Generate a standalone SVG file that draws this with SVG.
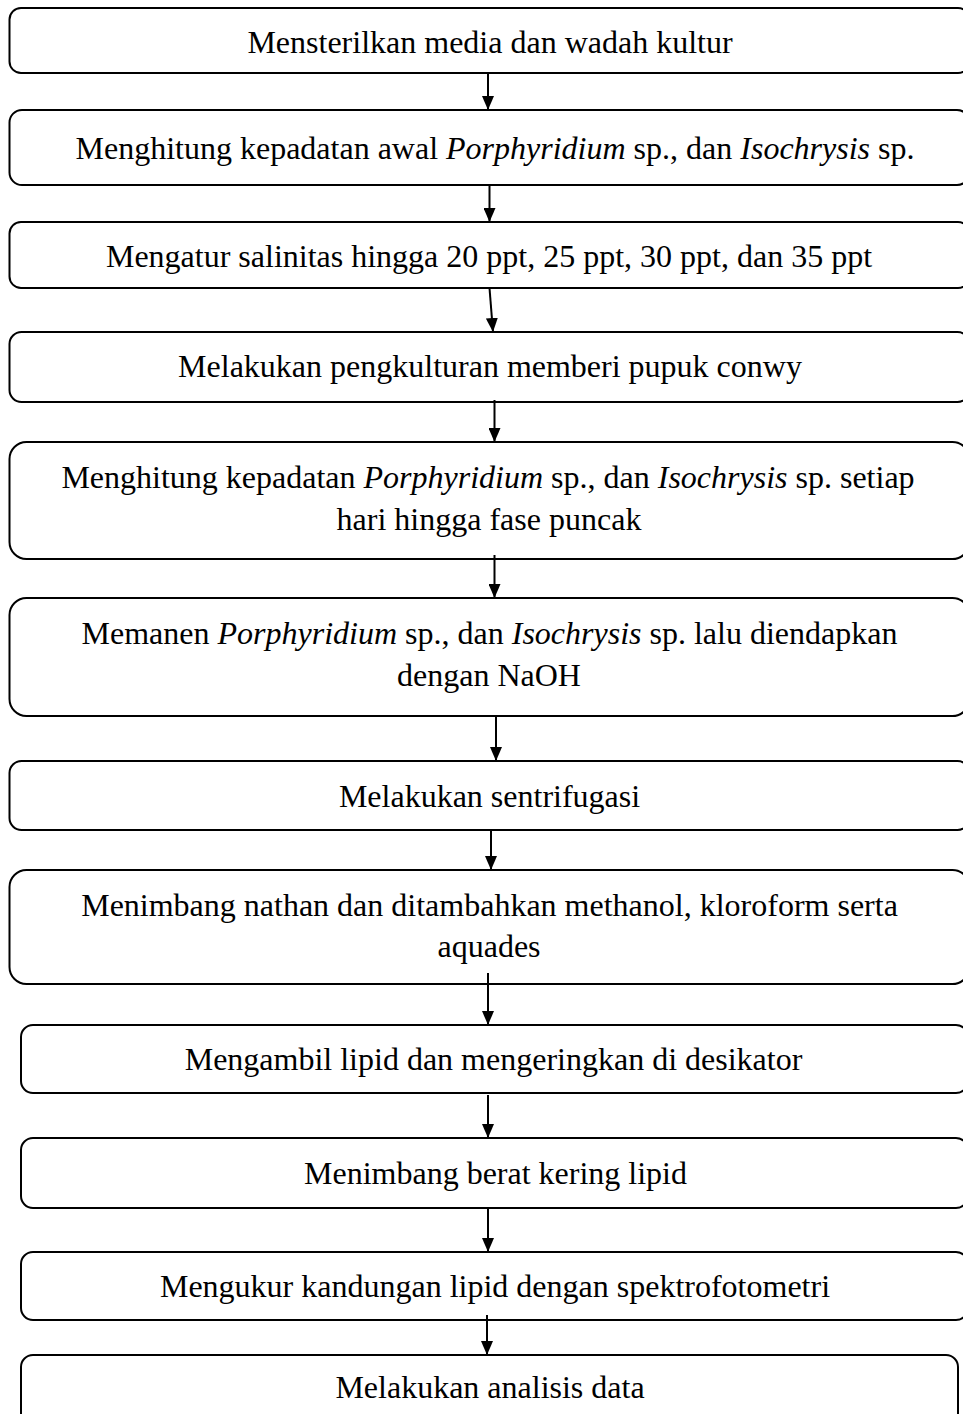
<svg xmlns="http://www.w3.org/2000/svg" width="963" height="1414" viewBox="0 0 963 1414">
<style>
.box{fill:#fff;stroke:#000;stroke-width:2}
.t{font-family:"Liberation Serif","Times New Roman",serif;font-size:32px;text-anchor:middle;fill:#000}
.i{font-style:italic}
.c{stroke:#000;stroke-width:2;fill:none;marker-end:url(#ah)}
</style>
<defs>
<marker id="ah" viewBox="0 0 14 12" refX="14" refY="6" markerWidth="14" markerHeight="12" markerUnits="userSpaceOnUse" orient="auto">
<path d="M0,0 L14,6 L0,12 z" fill="#000"/>
</marker>
</defs>
<rect width="963" height="1414" fill="#fff"/>
<g id="n1"><rect class="box" x="9.5" y="8" width="960" height="65" rx="11.5"/><text class="t" x="490" y="53">Mensterilkan media dan wadah kultur</text></g>
<g id="n2"><rect class="box" x="9.5" y="110" width="960" height="75" rx="12.5"/><text class="t" x="495" y="159">Menghitung kepadatan awal <tspan class="i">Porphyridium</tspan> sp., dan <tspan class="i">Isochrysis</tspan> sp.</text></g>
<g id="n3"><rect class="box" x="9.5" y="222" width="960" height="66" rx="11.5"/><text class="t" x="489" y="267">Mengatur salinitas hingga 20 ppt, 25 ppt, 30 ppt, dan 35 ppt</text></g>
<g id="n4"><rect class="box" x="9.5" y="332" width="960" height="70" rx="12"/><text class="t" x="490" y="377">Melakukan pengkulturan memberi pupuk conwy</text></g>
<g id="n5"><rect class="box" x="9.5" y="442" width="960" height="117" rx="17"/><text class="t" x="488" y="487.5">Menghitung kepadatan <tspan class="i">Porphyridium</tspan> sp., dan <tspan class="i">Isochrysis</tspan> sp. setiap</text><text class="t" x="489" y="529.5">hari hingga fase puncak</text></g>
<g id="n6"><rect class="box" x="9.5" y="598" width="960" height="118" rx="17"/><text class="t" x="489.5" y="644">Memanen <tspan class="i">Porphyridium</tspan> sp., dan <tspan class="i">Isochrysis</tspan> sp. lalu diendapkan</text><text class="t" x="489" y="686">dengan NaOH</text></g>
<g id="n7"><rect class="box" x="9.5" y="761" width="960" height="69" rx="12"/><text class="t" x="489.5" y="806.5">Melakukan sentrifugasi</text></g>
<g id="n8"><rect class="box" x="9.5" y="870" width="960" height="114" rx="17"/><text class="t" x="489.5" y="916">Menimbang nathan dan ditambahkan methanol, kloroform serta</text><text class="t" x="489" y="957">aquades</text></g>
<g id="n9"><rect class="box" x="21" y="1025" width="947" height="68" rx="12"/><text class="t" x="493.5" y="1070">Mengambil lipid dan mengeringkan di desikator</text></g>
<g id="n10"><rect class="box" x="21" y="1138" width="947" height="70" rx="12"/><text class="t" x="495.5" y="1184">Menimbang berat kering lipid</text></g>
<g id="n11"><rect class="box" x="21" y="1252" width="947" height="68" rx="12"/><text class="t" x="495" y="1297">Mengukur kandungan lipid dengan spektrofotometri</text></g>
<g id="n12"><rect class="box" x="21" y="1355" width="937" height="72" rx="12"/><text class="t" x="490" y="1398">Melakukan analisis data</text></g>
<g id="connectors">
<line class="c" x1="488" y1="73" x2="488" y2="110"/>
<line class="c" x1="489.5" y1="185" x2="489.5" y2="222"/>
<line class="c" x1="489.5" y1="288" x2="493" y2="332"/>
<line class="c" x1="494.5" y1="400" x2="494.5" y2="442"/>
<line class="c" x1="494.5" y1="555" x2="494.5" y2="598"/>
<line class="c" x1="496" y1="716" x2="496" y2="761"/>
<line class="c" x1="491" y1="830" x2="491" y2="870"/>
<line class="c" x1="488" y1="973" x2="488" y2="1025"/>
<line class="c" x1="488" y1="1095" x2="488" y2="1138"/>
<line class="c" x1="488" y1="1208" x2="488" y2="1252"/>
<line class="c" x1="487" y1="1315" x2="487" y2="1355"/>
</g>
</svg>
